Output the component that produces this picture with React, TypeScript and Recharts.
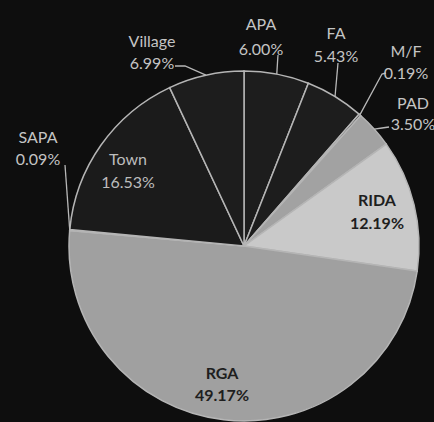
import { Cell, Pie, PieChart } from "recharts";

const categories = ["APA", "FA", "M/F", "PAD", "RIDA", "RGA", "SAPA", "Town", "Village"];
const shares = [6.0, 5.43, 0.19, 3.5, 12.19, 49.17, 0.09, 16.53, 6.99];

const data = categories.map((name, i) => ({ name, value: shares[i] }));

const fills: Record<string, string> = {
  APA: "#1d1d1d",
  FA: "#1d1d1d",
  "M/F": "#1d1d1d",
  PAD: "#a2a2a2",
  RIDA: "#c9c9c9",
  RGA: "#a0a0a0",
  SAPA: "#1d1d1d",
  Town: "#1b1b1b",
  Village: "#1d1d1d",
};

// label layout, offsets from the pie centre
type Layout = { x: number; y1: number; y2: number; color: string; weight?: number; line?: number[][] };
const layout: Record<string, Layout> = {
  Village: { x: -92, y1: -206, y2: -184, color: "#c4c4c4", line: [[-69, -180], [-59, -180]] },
  APA: { x: 17, y1: -223, y2: -198, color: "#c4c4c4", line: [[34, -191]] },
  FA: { x: 92, y1: -214, y2: -191, color: "#c4c4c4", line: [[94, -183]] },
  "M/F": { x: 162, y1: -196, y2: -174, color: "#c4c4c4", line: [[142, -173], [138, -172]] },
  PAD: { x: 169, y1: -144, y2: -123, color: "#c4c4c4", line: [[145, -119], [138, -118]] },
  SAPA: { x: -206, y1: -110, y2: -88, color: "#c4c4c4", line: [[-179, -81]] },
  Town: { x: -116, y1: -88, y2: -65, color: "#bdbdbd" },
  RIDA: { x: 133, y1: -47, y2: -24, color: "#1e1e1e", weight: 700 },
  RGA: { x: -22, y1: 126, y2: 148, color: "#1e1e1e", weight: 700 },
};

const RAD = Math.PI / 180;

function renderLabel(props: any) {
  const { cx, cy, midAngle, outerRadius, name, value } = props;
  const l = layout[name];
  if (!l) return null;
  const ex = cx + outerRadius * Math.cos(-midAngle * RAD);
  const ey = cy + outerRadius * Math.sin(-midAngle * RAD);
  const pts = l.line ? [...l.line.map(([px, py]) => `${cx + px},${cy + py}`), `${ex},${ey}`].join(" ") : null;
  return (
    <g>
      {pts && <polyline points={pts} fill="none" stroke="#b8b8b8" strokeWidth={1.3} />}
      <text x={cx + l.x} y={cy + l.y1} textAnchor="middle" dominantBaseline="central" fill={l.color} fontSize={16} fontWeight={l.weight ?? 400}>
        {name}
      </text>
      <text x={cx + l.x} y={cy + l.y2} textAnchor="middle" dominantBaseline="central" fill={l.color} fontSize={16} fontWeight={l.weight ?? 400}>
        {value.toFixed(2)}%
      </text>
    </g>
  );
}

export default function App() {
  return (
    <div style={{ position: "fixed", left: 0, top: 0, width: 434, height: 422, background: "#0e0e0e", fontFamily: "Lato, sans-serif" }}>
      <PieChart width={434} height={422}>
        <Pie
          data={data}
          dataKey="value"
          nameKey="name"
          cx={239}
          cy={241}
          outerRadius={175}
          startAngle={90}
          endAngle={-270}
          stroke="#b5b5b5"
          strokeWidth={1.5}
          label={renderLabel}
          labelLine={false}
          isAnimationActive={false}
        >
          {data.map((d) => (
            <Cell key={d.name} fill={fills[d.name]} />
          ))}
        </Pie>
      </PieChart>
    </div>
  );
}
